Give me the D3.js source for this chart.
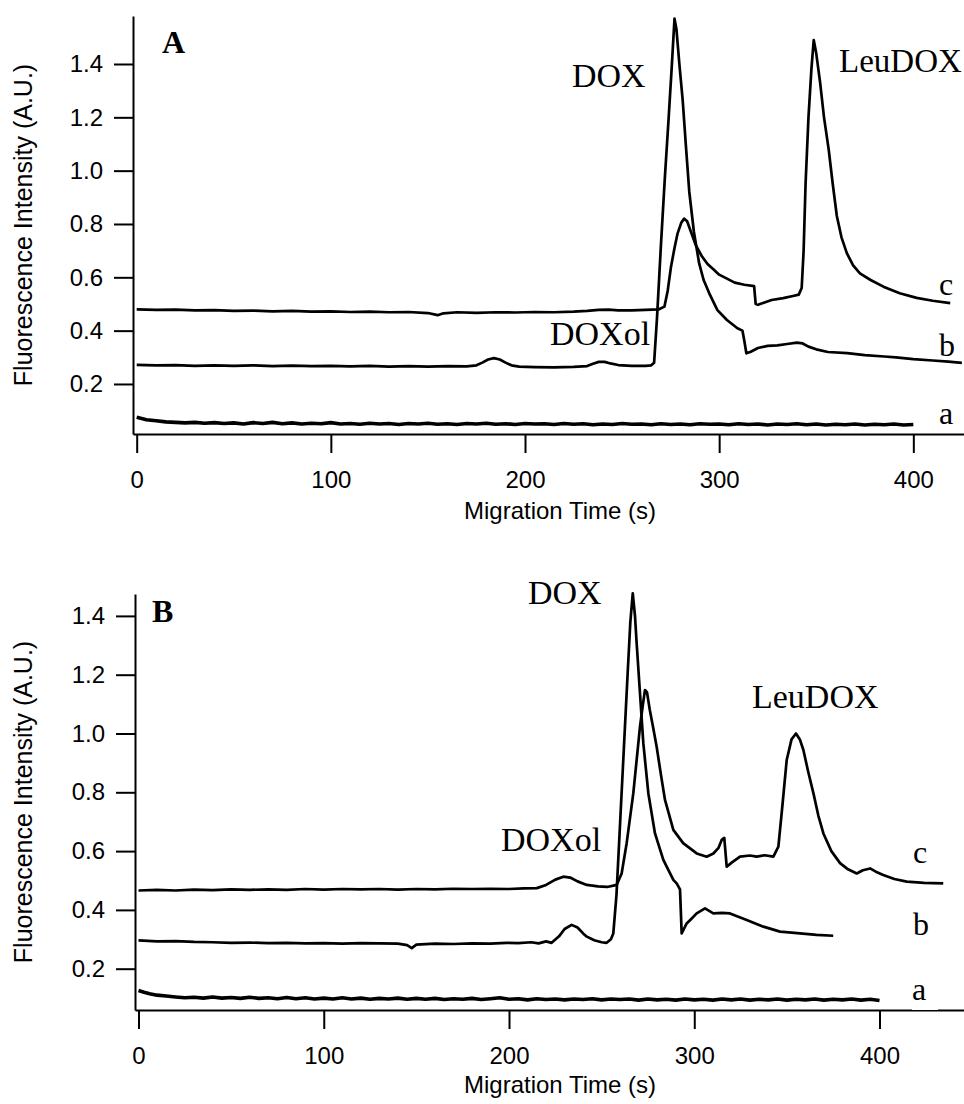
<!DOCTYPE html>
<html>
<head>
<meta charset="utf-8">
<script src="https://cdn.jsdelivr.net/npm/d3@7"></script>
<style>
body { margin: 0; background: #fff; }
.trace { fill: none; stroke: #000; stroke-width: 2.7; stroke-linejoin: round; }
.trace.noisy { stroke-width: 3.6; }
.axis path, .axis line { stroke: #000; stroke-width: 2; }
.title { font-family: Arial, "Liberation Sans", sans-serif; fill: #000; }
.label { font-family: "Times New Roman", "Liberation Serif", serif; fill: #000; }
</style>
</head>
<body>
<svg class="scene" width="964" height="1104"></svg>
<script>

//
// data
//

var xTicks = [0, 100, 200, 300, 400];
var yTicks = [0.2, 0.4, 0.6, 0.8, 1.0, 1.2, 1.4];

// panel A, [migration time (s), fluorescence (A.U.)]
var traceA_a = [[0,0.075],[5,0.066],[10,0.062],[15,0.058],[20,0.056],[25,0.054],[30,0.056],[35,0.053],[40,0.055],[45,0.052],
    [50,0.054],[55,0.05],[60,0.055],[65,0.052],[70,0.056],[75,0.051],[80,0.054],[85,0.05],[90,0.053],[95,0.051],
    [100,0.055],[105,0.05],[110,0.052],[115,0.049],[120,0.053],[125,0.05],[130,0.052],[135,0.048],[140,0.052],[145,0.05],
    [150,0.053],[155,0.049],[160,0.051],[165,0.048],[170,0.052],[175,0.05],[180,0.053],[185,0.049],[190,0.051],[195,0.048],
    [200,0.052],[205,0.05],[210,0.051],[215,0.048],[220,0.052],[225,0.049],[230,0.051],[235,0.047],[240,0.05],[245,0.048],
    [250,0.052],[255,0.049],[260,0.05],[265,0.047],[270,0.051],[275,0.048],[280,0.05],[285,0.047],[290,0.051],[295,0.049],
    [300,0.05],[305,0.047],[310,0.051],[315,0.048],[320,0.05],[325,0.046],[330,0.05],[335,0.048],[340,0.051],[345,0.047],
    [350,0.05],[355,0.046],[360,0.049],[365,0.047],[370,0.05],[375,0.046],[380,0.049],[385,0.047],[390,0.05],[395,0.046],[400,0.048]];

var traceA_b = [[0,0.272],[10,0.27],[20,0.271],[30,0.268],[40,0.27],[50,0.268],[60,0.27],[70,0.267],[80,0.269],[90,0.267],
    [100,0.268],[110,0.266],[120,0.268],[130,0.265],[140,0.267],[150,0.265],[160,0.267],[170,0.266],[175,0.27],[178,0.28],
    [181,0.292],[184,0.297],[187,0.292],[190,0.28],[193,0.27],[197,0.265],[205,0.263],[215,0.262],[225,0.264],[232,0.267],
    [235,0.276],[238,0.283],[241,0.283],[244,0.277],[248,0.271],[255,0.268],[262,0.268],[265,0.27],[266.5,0.28],[268,0.45],
    [270,0.72],[272,0.97],[274,1.2],[275.5,1.38],[277,1.57],[278,1.53],[279.5,1.4],[281.2,1.265],[283,1.08],[284.6,0.921],
    [287,0.77],[289.7,0.652],[292,0.59],[294.9,0.54],[299.1,0.477],[304,0.44],[309.4,0.409],[312,0.4],[313,0.36],[314,0.315],
    [316,0.32],[320,0.335],[325,0.343],[330,0.345],[335,0.35],[340,0.355],[343,0.352],[346,0.34],[350,0.33],[356,0.32],
    [366,0.316],[375,0.308],[385,0.303],[391,0.3],[400,0.293],[410,0.288],[418,0.284],[425,0.279]];

var traceA_c = [[0,0.48],[10,0.478],[20,0.479],[30,0.476],[40,0.477],[50,0.474],[60,0.475],[70,0.472],[80,0.474],[90,0.471],
    [100,0.472],[110,0.47],[120,0.471],[130,0.469],[140,0.47],[150,0.466],[155,0.458],[158,0.465],[165,0.469],[175,0.467],
    [185,0.469],[195,0.468],[205,0.47],[215,0.469],[225,0.471],[232,0.474],[238,0.478],[243,0.479],[248,0.476],[255,0.476],
    [262,0.478],[269,0.48],[271.8,0.49],[273.5,0.55],[275.2,0.64],[277,0.71],[278.6,0.765],[280.5,0.805],[282,0.82],[283.5,0.81],
    [285.5,0.77],[288,0.72],[291,0.68],[294,0.65],[297,0.63],[300,0.61],[304,0.595],[308,0.58],[313,0.572],[318,0.567],
    [318.8,0.5],[320,0.497],[323,0.505],[327,0.515],[333,0.522],[338,0.53],[341,0.535],[342.5,0.56],[343.5,0.7],[344.5,0.95],
    [346,1.2],[347.5,1.38],[348.7,1.49],[350,1.44],[352,1.33],[354,1.2],[356.4,1.08],[358.5,0.95],[360.6,0.83],[363,0.75],
    [365.8,0.69],[369,0.645],[372.5,0.615],[378,0.59],[384.6,0.565],[393,0.54],[401.7,0.523],[410,0.512],[419,0.503]];

// panel B
var traceB_a = [[0,0.126],[3,0.12],[6,0.115],[10,0.11],[15,0.107],[20,0.104],[25,0.101],[30,0.103],[35,0.1],[40,0.104],
    [45,0.1],[50,0.102],[55,0.099],[60,0.103],[65,0.099],[70,0.101],[75,0.098],[80,0.102],[85,0.098],[90,0.101],
    [95,0.097],[100,0.1],[105,0.097],[110,0.101],[115,0.097],[120,0.1],[125,0.096],[130,0.099],[135,0.097],[140,0.1],
    [145,0.096],[150,0.099],[155,0.096],[160,0.099],[165,0.095],[170,0.098],[175,0.096],[180,0.099],[185,0.095],[190,0.098],
    [195,0.101],[200,0.096],[205,0.098],[210,0.094],[215,0.098],[220,0.095],[225,0.097],[230,0.094],[235,0.097],[240,0.095],
    [245,0.098],[250,0.094],[255,0.097],[260,0.095],[265,0.097],[270,0.093],[275,0.097],[280,0.094],[285,0.096],[290,0.093],
    [295,0.097],[300,0.094],[305,0.096],[310,0.093],[315,0.097],[320,0.094],[325,0.097],[330,0.093],[335,0.096],[340,0.094],
    [345,0.097],[350,0.093],[355,0.096],[360,0.094],[365,0.097],[370,0.093],[375,0.096],[380,0.094],[385,0.097],[390,0.093],
    [395,0.096],[400,0.092]];

var traceB_b = [[0,0.296],[10,0.293],[20,0.294],[30,0.291],[40,0.29],[50,0.288],[60,0.289],[70,0.287],[80,0.288],[90,0.286],
    [100,0.287],[110,0.285],[120,0.287],[130,0.286],[140,0.285],[145,0.28],[147.5,0.27],[150,0.282],[160,0.285],[170,0.284],
    [180,0.286],[190,0.285],[198.7,0.288],[205,0.287],[212,0.29],[216,0.286],[220,0.293],[223,0.288],[227,0.31],[230,0.335],
    [233.8,0.349],[237,0.34],[240,0.32],[242,0.309],[246,0.297],[250,0.29],[252.7,0.288],[255,0.3],[256.3,0.32],[258,0.45],
    [260,0.7],[262,0.95],[264,1.2],[265.5,1.38],[266.8,1.477],[268,1.4],[268.9,1.307],[270.7,1.137],[272.5,0.967],[275.2,0.797],
    [278.8,0.66],[283.3,0.57],[288.7,0.502],[290.5,0.49],[292.3,0.47],[293.2,0.32],[295.9,0.354],[298.5,0.37],[301.3,0.388],[305.8,0.405],
    [310.3,0.388],[315,0.39],[319.3,0.388],[328.3,0.366],[337.3,0.343],[346.3,0.326],[357.1,0.32],[366,0.315],[375,0.312]];

var traceB_c = [[0,0.466],[10,0.468],[20,0.466],[30,0.469],[40,0.467],[50,0.47],[60,0.468],[70,0.47],[80,0.468],[90,0.471],
    [100,0.469],[110,0.471],[120,0.47],[130,0.471],[140,0.469],[150,0.471],[160,0.47],[170,0.472],[180,0.471],[190,0.472],
    [200,0.471],[208,0.473],[215,0.474],[220,0.485],[225,0.503],[229.3,0.513],[233,0.51],[237,0.497],[242,0.485],[248,0.48],
    [253,0.478],[258.1,0.485],[260.8,0.524],[263.5,0.627],[267.1,0.797],[270.7,1.023],[272.3,1.1],[273.4,1.148],[274.5,1.14],[276,1.08],
    [277.8,1.02],[279.7,0.955],[282,0.86],[284.2,0.774],[288.7,0.672],[294,0.627],[301.3,0.592],[306.7,0.581],[310.3,0.592],[313,0.61],
    [314.8,0.638],[316.2,0.645],[317.5,0.547],[320,0.56],[324.7,0.581],[330,0.585],[333.7,0.581],[338,0.586],[342.7,0.581],[345.4,0.615],
    [347.5,0.75],[349.9,0.91],[352.5,0.98],[354.9,1.0],[357,0.98],[358.9,0.944],[361.5,0.87],[364.3,0.797],[367,0.72],[369.7,0.66],
    [374,0.6],[378.7,0.559],[383,0.538],[387.7,0.524],[391,0.535],[394.9,0.541],[398,0.53],[402,0.519],[408,0.505],[414.7,0.496],
    [424,0.492],[434.4,0.49]];

//
// layout
//

var panels = [
    {
        name: "A", left: 133, right: 964, top: 16, bottom: 434,
        xDomain: [-1.9, 426.1], yDomain: [0.0124, 1.58],
        traces: [traceA_a, traceA_b, traceA_c],
        xTitleY: 519, yTitleY: 225,
        labels: [
            { text: "DOX", x: 572, y: 87 },
            { text: "LeuDOX", x: 839, y: 72, size: 33 },
            { text: "DOXol", x: 550, y: 345 },
            { text: "c", x: 939, y: 295, size: 32 },
            { text: "b", x: 939, y: 356, size: 32 },
            { text: "a", x: 939, y: 424, size: 32 }
        ],
        letter: { x: 162, y: 53 }
    },
    {
        name: "B", left: 135, right: 964, top: 594, bottom: 1010,
        xDomain: [-1.89, 445.6], yDomain: [0.0595, 1.4745],
        traces: [traceB_a, traceB_b, traceB_c],
        xTitleY: 1093, yTitleY: 802,
        labels: [
            { text: "DOX", x: 528, y: 604 },
            { text: "LeuDOX", x: 752, y: 708 },
            { text: "DOXol", x: 501, y: 851 },
            { text: "c", x: 913, y: 863, size: 32 },
            { text: "b", x: 913, y: 935, size: 32 },
            { text: "a", x: 912, y: 1000, size: 32, knockout: true }
        ],
        letter: { x: 152, y: 622 }
    }
];

var scene = d3.select(".scene");

function drawPanel(p) {
    var g = scene.append("g").attr("class", "panel");

    var x = d3.scaleLinear().domain(p.xDomain).range([p.left, p.right]);
    var y = d3.scaleLinear().domain(p.yDomain).range([p.bottom, p.top]);

    // traces, the first one (a) is the noisy blank
    var line = d3.line()
        .x(function (d) { return x(d[0]); })
        .y(function (d) { return y(d[1]); });
    g.selectAll("path.trace")
        .data(p.traces)
        .enter().append("path")
        .attr("class", function (d, i) { return i === 0 ? "trace noisy" : "trace"; })
        .attr("d", line);

    // axes
    g.append("g")
        .attr("class", "axis")
        .attr("transform", "translate(0," + p.bottom + ")")
        .call(d3.axisBottom(x).tickValues(xTicks).tickSize(19).tickPadding(18)
            .tickSizeOuter(0).tickFormat(d3.format("d")))
        .attr("font-size", 24)
        .attr("font-family", "Arial, 'Liberation Sans', sans-serif");

    g.append("g")
        .attr("class", "axis")
        .attr("transform", "translate(" + p.left + ",0)")
        .call(d3.axisLeft(y).tickValues(yTicks).tickSize(19).tickPadding(11)
            .tickSizeOuter(0).tickFormat(d3.format(".1f")))
        .attr("font-size", 24)
        .attr("font-family", "Arial, 'Liberation Sans', sans-serif");

    // axis titles
    g.append("text")
        .attr("class", "title")
        .attr("x", 560)
        .attr("y", p.xTitleY)
        .attr("text-anchor", "middle")
        .attr("font-size", 24)
        .text("Migration Time (s)");

    g.append("text")
        .attr("class", "title")
        .attr("transform", "translate(32," + p.yTitleY + ") rotate(-90)")
        .attr("text-anchor", "middle")
        .attr("font-size", 25)
        .text("Fluorescence Intensity (A.U.)");

    // peak and trace labels
    p.labels.forEach(function (l) {
        var size = l.size || 34;
        if (l.knockout) {
            g.append("rect")
                .attr("x", l.x)
                .attr("y", l.y - 20)
                .attr("width", 26)
                .attr("height", 30)
                .attr("fill", "#fff");
        }
        g.append("text")
            .attr("class", "label")
            .attr("x", l.x)
            .attr("y", l.y)
            .attr("font-size", size)
            .text(l.text);
    });

    // panel letter
    g.append("text")
        .attr("class", "label")
        .attr("x", p.letter.x)
        .attr("y", p.letter.y)
        .attr("font-size", 32)
        .attr("font-weight", "bold")
        .text(p.name);
}

panels.forEach(drawPanel);

</script>
</body>
</html>
